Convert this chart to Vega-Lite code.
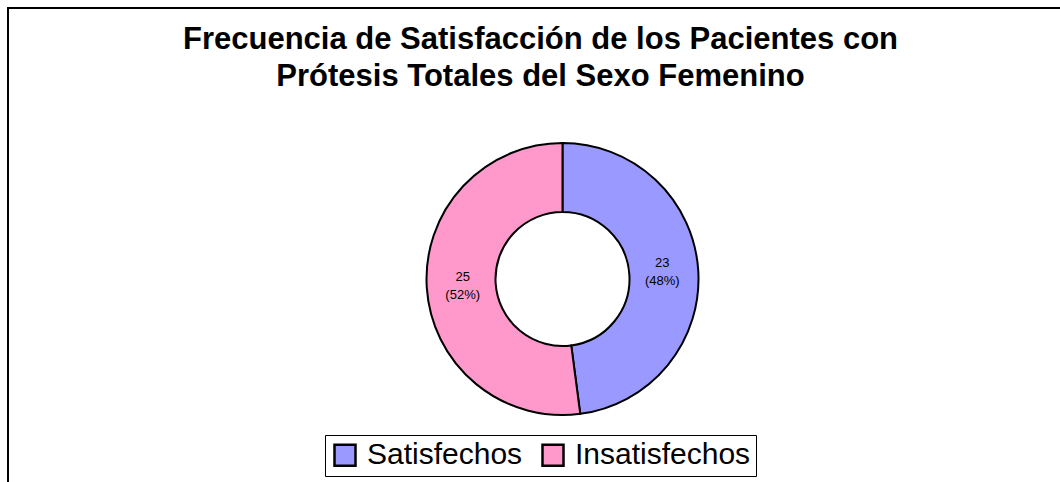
{
  "$schema": "https://vega.github.io/schema/vega-lite/v6.json",
  "width": 1109,
  "height": 542,
  "autosize": {"type": "none"},
  "padding": {"left": 8, "top": 8, "right": 0, "bottom": 0},
  "background": "white",
  "view": {"stroke": "black", "strokeWidth": 2, "fill": "white"},
  "config": {
    "view": {"stroke": "black", "strokeWidth": 2},
    "font": "Liberation Sans"
  },
  "title": {
    "text": ["Frecuencia de Satisfacción de los Pacientes con", "Prótesis Totales del Sexo Femenino"],
    "fontSize": 31,
    "fontWeight": "bold",
    "font": "Liberation Sans",
    "color": "black",
    "lineHeight": 37,
    "anchor": "middle",
    "dx": -22,
    "offset": -85
  },
  "data": {
    "values": [
      {"category": "Satisfechos", "value": 23, "label": "23\n(48%)", "idx": 1},
      {"category": "Insatisfechos", "value": 25, "label": "25\n(52%)", "idx": 2}
    ]
  },
  "encoding": {
    "theta": {"field": "value", "type": "quantitative", "stack": true},
    "order": {"field": "idx", "type": "quantitative"}
  },
  "layer": [
    {
      "mark": {"type": "arc", "outerRadius": 136, "innerRadius": 67, "stroke": "black", "strokeWidth": 2},
      "encoding": {
        "color": {
          "field": "category",
          "type": "nominal",
          "scale": {"domain": ["Satisfechos", "Insatisfechos"], "range": ["#9999FF", "#FF99CC"]},
          "legend": {
            "orient": "none",
            "legendX": 317,
            "legendY": 427,
            "direction": "horizontal",
            "title": null,
            "symbolType": "square",
            "symbolSize": 441,
            "symbolStrokeColor": "black",
            "symbolStrokeWidth": 2.5,
            "symbolOpacity": 1,
            "labelFontSize": 30,
            "labelFont": "Liberation Sans",
            "labelColor": "black",
            "labelLimit": 400,
            "strokeColor": "black",
            "padding": 5,
            "columnPadding": 14,
            "labelOffset": 7
          }
        }
      }
    },
    {
      "mark": {"type": "text", "radius": 100, "fontSize": 13, "lineHeight": 18, "lineBreak": "\n", "dy": -9, "font": "Liberation Sans", "color": "black"},
      "encoding": {"text": {"field": "label", "type": "nominal"}}
    }
  ]
}
